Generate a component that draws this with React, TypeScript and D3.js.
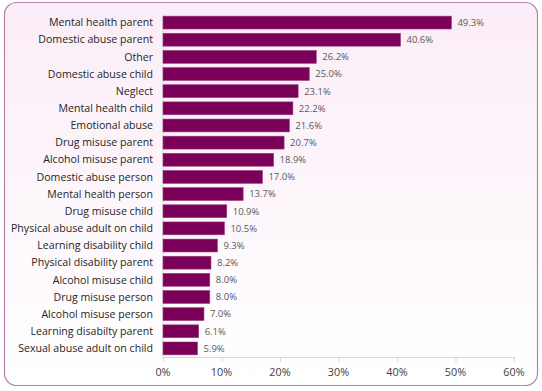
import React, { useEffect, useRef } from 'react'
import * as d3 from 'd3'

const categories = [
  'Mental health parent',
  'Domestic abuse parent',
  'Other',
  'Domestic abuse child',
  'Neglect',
  'Mental health child',
  'Emotional abuse',
  'Drug misuse parent',
  'Alcohol misuse parent',
  'Domestic abuse person',
  'Mental health person',
  'Drug misuse child',
  'Physical abuse adult on child',
  'Learning disability child',
  'Physical disability parent',
  'Alcohol misuse child',
  'Drug misuse person',
  'Alcohol misuse person',
  'Learning disabilty parent',
  'Sexual abuse adult on child',
]

const values = [49.3, 40.6, 26.2, 25.0, 23.1, 22.2, 21.6, 20.7, 18.9, 17.0, 13.7, 10.9, 10.5, 9.3, 8.2, 8.0, 8.0, 7.0, 6.1, 5.9]

const xTicks = [0, 10, 20, 30, 40, 50, 60]

export default function App() {
  const ref = useRef<SVGSVGElement>(null)

  useEffect(() => {
    const svg = d3.select(ref.current)
    svg.selectAll('*').remove()

    const left = 163, right = 514, top = 14, bottom = 357

    const defs = svg.append('defs')
    const grad = defs.append('linearGradient')
      .attr('id', 'bg').attr('x1', 0).attr('y1', 0).attr('x2', 0).attr('y2', 1)
    grad.append('stop').attr('offset', '0%').attr('stop-color', '#fbedf7')
    grad.append('stop').attr('offset', '100%').attr('stop-color', '#ffffff')

    svg.append('rect')
      .attr('x', 4.5).attr('y', 2.5)
      .attr('width', 533).attr('height', 383)
      .attr('rx', 12)
      .attr('fill', 'url(#bg)')
      .attr('stroke', '#b681ae')
      .attr('stroke-width', 1.2)

    const x = d3.scaleLinear().domain([0, 60]).range([left, right])
    const y = d3.scaleBand().domain(categories).range([top, bottom]).paddingInner(0.25).paddingOuter(0.125)

    const g = svg.append('g')

    // axis lines
    g.append('line')
      .attr('x1', left).attr('x2', left).attr('y1', top).attr('y2', bottom)
      .attr('stroke', '#d9d9d9')
    g.append('line')
      .attr('x1', left).attr('x2', right).attr('y1', bottom + 0.5).attr('y2', bottom + 0.5)
      .attr('stroke', '#d9d9d9')

    g.selectAll('line.tick')
      .data(xTicks)
      .enter()
      .append('line')
        .attr('x1', d => x(d) + 0.5).attr('x2', d => x(d) + 0.5)
        .attr('y1', bottom).attr('y2', bottom + 5)
        .attr('stroke', '#d9d9d9')

    g.selectAll('text.tick')
      .data(xTicks)
      .enter()
      .append('text')
        .attr('x', d => x(d))
        .attr('y', bottom + 19)
        .attr('text-anchor', 'middle')
        .attr('font-family', 'Open Sans, sans-serif')
        .attr('font-size', 10.8)
        .attr('fill', '#404040')
        .text(d => d + '%')

    g.selectAll('rect.bar')
      .data(values)
      .enter()
      .append('rect')
        .attr('x', left)
        .attr('y', (d, i) => y(categories[i])!)
        .attr('width', d => x(d) - left)
        .attr('height', y.bandwidth())
        .attr('fill', '#7b0059')
        .attr('stroke', '#9a3a7f')
        .attr('stroke-width', 0.6)

    g.selectAll('text.cat')
      .data(categories)
      .enter()
      .append('text')
        .attr('x', left - 10)
        .attr('y', d => y(d)! + y.bandwidth() / 2)
        .attr('dy', '0.35em')
        .attr('text-anchor', 'end')
        .attr('font-family', 'Open Sans, sans-serif')
        .attr('font-size', 10.6)
        .attr('fill', '#262626')
        .text(d => d)

    g.selectAll('text.val')
      .data(values)
      .enter()
      .append('text')
        .attr('x', d => x(d) + 6)
        .attr('y', (d, i) => y(categories[i])! + y.bandwidth() / 2)
        .attr('dy', '0.35em')
        .attr('font-family', 'Open Sans, sans-serif')
        .attr('font-size', 9.5)
        .attr('fill', '#595959')
        .text(d => d.toFixed(1) + '%')
  }, [])

  return (
    <svg ref={ref} width={542} height={391} style={{ position: 'absolute', left: 0, top: 0 }} />
  )
}
